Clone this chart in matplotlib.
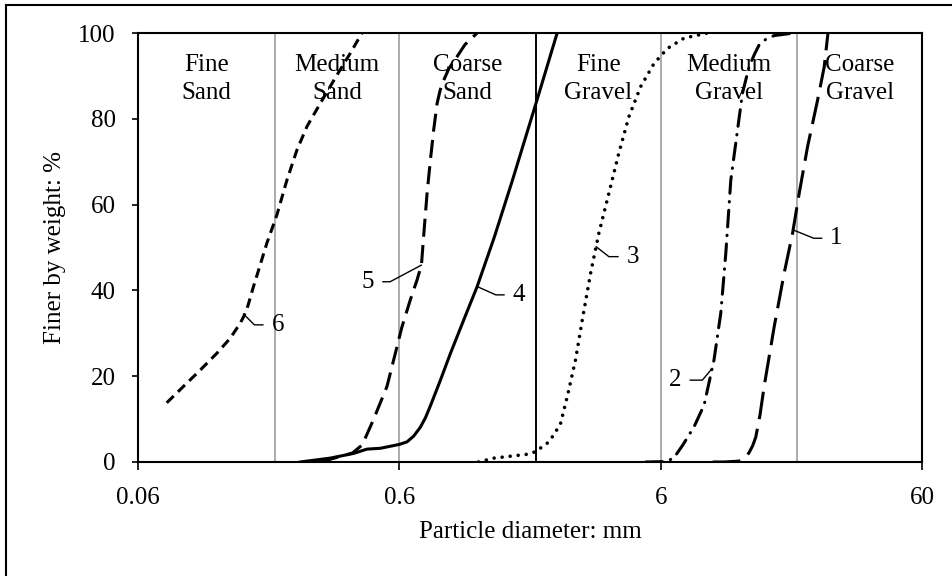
import numpy as np
import matplotlib
matplotlib.use('Agg')
import matplotlib.pyplot as plt
from matplotlib.lines import Line2D

plt.rcParams['font.family'] = ['Liberation Serif', 'DejaVu Serif']
plt.rcParams['lines.scale_dashes'] = False

# grading curves: particle diameter (mm) vs percent finer by weight
d1 = [9.49, 10.46, 11.95, 12.6, 13.05, 13.5, 13.87, 14.4, 14.93, 16.31, 17.81, 19.18, 20.33, 21.89,
      23.92, 25.35, 26.2]
p1 = [0, 0, 0.2, 0.9, 2.1, 3.8, 5.8, 11.0, 17.6, 31.5, 44.0, 53.3, 62.6, 73.5,
      84.4, 92.1, 100]

d2 = [5.26, 6.27, 6.73, 7.30, 8.05, 8.80, 9.60, 10.19, 10.65, 11.13, 11.81, 12.33, 13.07, 13.7,
      14.28, 15.2, 16.31, 19.45]
p2 = [0, 0.1, 0.9, 4.0, 8.2, 13.3, 23.8, 34.7, 48.6, 65.7, 77.4, 85.9, 92.1, 95.0,
      97.2, 98.6, 99.4, 100]

d3 = [1.205, 1.379, 1.851, 1.992, 2.209, 2.34, 2.484, 2.634, 2.834, 3.007, 3.236, 3.48, 3.80, 4.15,
      4.535, 5.03, 5.66, 6.37, 7.37, 9.06]
p3 = [0, 0.9, 1.8, 2.4, 4.4, 6.3, 9.0, 15.2, 23.8, 33.1, 44.0, 53.3, 62.6, 72.0,
      80.5, 87.5, 92.9, 96.4, 98.8, 100]

d4 = [0.2505, 0.326, 0.401, 0.451, 0.508, 0.6, 0.642, 0.68, 0.722, 0.755, 0.789, 0.862, 0.941,
      1.058, 1.191, 1.387, 1.626, 2.037, 2.41]
p4 = [0, 0.9, 2.0, 3.0, 3.2, 4.1, 4.7, 6.0, 8.1, 10.3, 13.1, 19.1, 25.3,
      33.1, 40.9, 52.5, 65.7, 85.2, 100]

d5 = [0.30, 0.397, 0.433, 0.477, 0.538, 0.579, 0.614, 0.661, 0.701, 0.729, 0.743, 0.766, 0.789,
      0.812, 0.837, 0.86, 0.887, 0.93, 0.998, 1.07, 1.191]
p5 = [0, 2.1, 4.0, 9.8, 17.6, 25.3, 31.5, 37.8, 42.4, 45.9, 52.5, 62.6, 70.4,
      77.4, 83.6, 86.7, 89.0, 91.8, 94.5, 97.3, 100]

d6 = [0.0773, 0.0895, 0.1037, 0.120, 0.135, 0.1475, 0.1525, 0.158, 0.166, 0.176, 0.1867, 0.204,
      0.2228, 0.2433, 0.2658, 0.299, 0.3463, 0.3896, 0.4316]
p6 = [13.8, 17.6, 21.4, 25.3, 28.8, 32.3, 34.0, 36.4, 40.9, 45.9, 51.0, 57.6,
      65.7, 72.7, 78.2, 83.6, 90.2, 95.3, 100]

# size class boundaries (mm) and their names
bounds = [0.06, 0.2, 0.6, 2, 6, 20, 60]
classes = ['Fine\nSand', 'Medium\nSand', 'Coarse\nSand', 'Fine\nGravel', 'Medium\nGravel', 'Coarse\nGravel']

# curve labels: name, percent finer where the leader touches the curve
label_names = ['1', '2', '3', '4', '5', '6']
label_at = [54.1, 21.8, 50.2, 40.9, 45.9, 34.3]

fig = plt.figure(figsize=(9.52, 5.76), dpi=100)
ax = fig.add_axes([138 / 952, 1 - 462 / 576, 784 / 952, 429 / 576])

# class divisions, the sand/gravel one in black
for b in bounds[1:-1]:
    ax.axvline(b, color='black' if b == 2 else '#ababab', lw=1.4, zorder=1)

for i in range(len(classes)):
    ax.text(np.sqrt(bounds[i] * bounds[i + 1]), 89.3, classes[i], ha='center', va='center',
            fontsize=18, linespacing=1.38, zorder=2)

k = dict(color='black', lw=2.2, zorder=3, solid_joinstyle='round')
ax.plot(d1, p1, dashes=(20, 7), **k)
ax.plot(d2, p2, dashes=(12, 6, 0.3, 6), dash_capstyle='round', **k)
ax.plot(d3, p3, color='black', lw=2.6, dashes=(0.01, 5.8), dash_capstyle='round', zorder=3)
ax.plot(d4, p4, **k)
ax.plot(d5, p5, dashes=(13, 6), **k)
ax.plot(d6, p6, dashes=(7, 4.3), **k)

curves = [(d1, p1), (d2, p2), (d3, p3), (d4, p4), (d5, p5), (d6, p6)]
offsets = [(31.2, -6.0), (-26.4, -8.4), (26.4, -7.2), (30.0, -6.0), (-38.4, -12.0), (24.0, -7.2)]
angles = [-22, 50, -38, -24, 28, -45]
for (d, p), name, yv, off, ang in zip(curves, label_names, label_at, offsets, angles):
    xv = 10 ** np.interp(yv, p, np.log10(d))
    ax.annotate(name, xy=(xv, yv), xytext=off, textcoords='offset points',
                ha='center', va='center', fontsize=18,
                arrowprops=dict(arrowstyle='-', lw=1.0, color='black', shrinkA=4, shrinkB=0,
                                connectionstyle='angle,angleA=0,angleB=%d,rad=0' % ang))

ax.set_xscale('log')
ax.set_xlim(0.06, 60)
ax.set_ylim(0, 100)
ax.set_xticks([0.06, 0.6, 6, 60])
ax.set_xticklabels(['0.06', '0.6', '6', '60'])
ax.xaxis.set_minor_locator(matplotlib.ticker.NullLocator())
ax.set_yticks([0, 20, 40, 60, 80, 100])
ax.tick_params(axis='x', direction='out', length=6, width=1.2, pad=12, labelsize=18)
ax.tick_params(axis='y', direction='out', length=4, width=1.2, pad=12, labelsize=18)
for s in ax.spines.values():
    s.set_linewidth(1.5)

ax.set_xlabel('Particle diameter: mm', fontsize=18, va='center')
ax.xaxis.set_label_coords(0.5, (462 - 532) / 429)
ax.set_ylabel('Finer by weight: %', fontsize=18, va='center')
ax.yaxis.set_label_coords((55 - 138) / 784, 0.5)

# outer frame
fig.add_artist(Line2D([6 / 952, 6 / 952], [0, 1 - 5 / 576], color='black', lw=1.5))
fig.add_artist(Line2D([6 / 952, 1], [1 - 5 / 576, 1 - 5 / 576], color='black', lw=1.5))

fig.savefig('out.png', dpi=100)
